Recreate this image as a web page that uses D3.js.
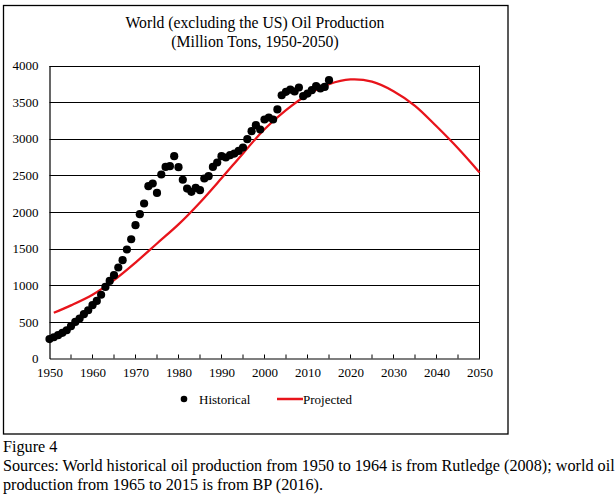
<!DOCTYPE html>
<html><head><meta charset="utf-8">
<script src="https://cdn.jsdelivr.net/npm/d3@7"></script>
<style>
body{margin:0;background:#fff;}
svg text{font-family:"Liberation Serif","Times New Roman",serif;fill:#000;}
</style></head>
<body>
<svg id="chart" width="616" height="495"></svg>
<script>
const histYears = d3.range(1950, 2016);
const histValues = [
 265,290,318,350,386,441,500,546,605,659,728,786,870,977,1059,1137,
 1242,1342,1488,1628,1820,1970,2116,2352,2389,2261,2512,2616,2625,2762,
 2612,2440,2320,2275,2330,2298,2457,2489,2616,2676,2762,2744,2776,2798,2834,2880,
 2994,3103,3185,3126,3263,3290,3263,3400,3594,3640,3672,3645,3700,3581,3617,3663,
 3718,3686,3708,3800
];
const projYears  = [1951,1955,1960,1965,1970,1975,1980,1985,1990,1995,2000,2005,2010,2015,2020,2025,2030,2035,2040,2045,2050];
const projValues = [625,725,870,1070,1310,1570,1830,2130,2460,2800,3130,3390,3600,3745,3810,3780,3650,3450,3170,2870,2540];
const xTickYears = d3.range(1950, 2051, 10);
const yTickValues = d3.range(0, 4001, 500);
const titleLines = ["World (excluding the US) Oil Production", "(Million Tons, 1950-2050)"];
const captionLines = ["Figure 4",
 "Sources: World historical oil production from 1950 to 1964 is from Rutledge (2008); world oil",
 "production from 1965 to 2015 is from BP (2016)."];

const hist = histYears.map((y,i)=>({year:y, value:histValues[i]}));
const proj = projYears.map((y,i)=>({year:y, value:projValues[i]}));

const svg = d3.select("#chart");
const L = 49.5, R = 479.5, T = 65.5, B = 358.5;
const x = d3.scaleLinear().domain([1950, 2050]).range([L, R]);
const y = d3.scaleLinear().domain([0, 4000]).range([B, T]);

// outer frame
svg.append("rect").attr("x",3.5).attr("y",5.5).attr("width",504.5).attr("height",428.5)
  .attr("fill","none").attr("stroke","#000").attr("stroke-width",1.3);

// title
svg.append("text").attr("x",255).attr("y",27.5).attr("text-anchor","middle")
  .style("font-size","15.7px").text(titleLines[0]);
svg.append("text").attr("x",255).attr("y",46.5).attr("text-anchor","middle")
  .style("font-size","15.7px").text(titleLines[1]);

// gridlines
svg.append("g").selectAll("line").data(yTickValues.filter(v=>v>0)).join("line")
  .attr("x1",L).attr("x2",R).attr("y1",d=>Math.round(y(d))+0.5).attr("y2",d=>Math.round(y(d))+0.5)
  .attr("stroke","#000").attr("stroke-width",1);
// right border
svg.append("line").attr("x1",R).attr("x2",R).attr("y1",T).attr("y2",B).attr("stroke","#000").attr("stroke-width",1);

// y axis
const yAxis = svg.append("g").attr("transform",`translate(${L},0)`)
  .call(d3.axisLeft(y).tickValues(yTickValues).tickFormat(d3.format("d")).tickSize(0).tickPadding(11));
yAxis.select(".domain").attr("stroke","#000").attr("stroke-width",1.2);
yAxis.selectAll("text").style("font-size","13px").style("font-family","Liberation Serif");

// x axis
const xAxis = svg.append("g").attr("transform",`translate(0,${B})`)
  .call(d3.axisBottom(x).tickValues(xTickYears).tickFormat(d3.format("d")).tickSize(0).tickPadding(9));
xAxis.select(".domain").attr("stroke","#000").attr("stroke-width",1.2);
xAxis.selectAll("text").style("font-size","13px").style("font-family","Liberation Serif");
// minor inward ticks every 5 years
svg.append("g").selectAll("line").data(d3.range(1955, 2051, 5)).join("line")
  .attr("x1",d=>x(d)).attr("x2",d=>x(d)).attr("y1",B).attr("y2",B-4)
  .attr("stroke","#000").attr("stroke-width",1);

// projected line
svg.append("path").datum(proj)
  .attr("d", d3.line().x(d=>x(d.year)).y(d=>y(d.value)).curve(d3.curveCatmullRom))
  .attr("fill","none").attr("stroke","#e8141b").attr("stroke-width",2.3);

// historical dots
svg.append("g").selectAll("circle").data(hist).join("circle")
  .attr("cx",d=>x(d.year)).attr("cy",d=>y(d.value)).attr("r",4.1).attr("fill","#000");

// legend
svg.append("circle").attr("cx",184).attr("cy",399).attr("r",3.3).attr("fill","#000");
svg.append("text").attr("x",199).attr("y",404).style("font-size","13px").text("Historical");
svg.append("line").attr("x1",277).attr("x2",303).attr("y1",399).attr("y2",399)
  .attr("stroke","#e8141b").attr("stroke-width",2.5);
svg.append("text").attr("x",303).attr("y",404).style("font-size","13px").text("Projected");

// caption
captionLines.forEach((t,i)=>{
  svg.append("text").attr("x",3).attr("y",452 + i*19).style("font-size","16.2px").text(t);
});
</script>
</body></html>
